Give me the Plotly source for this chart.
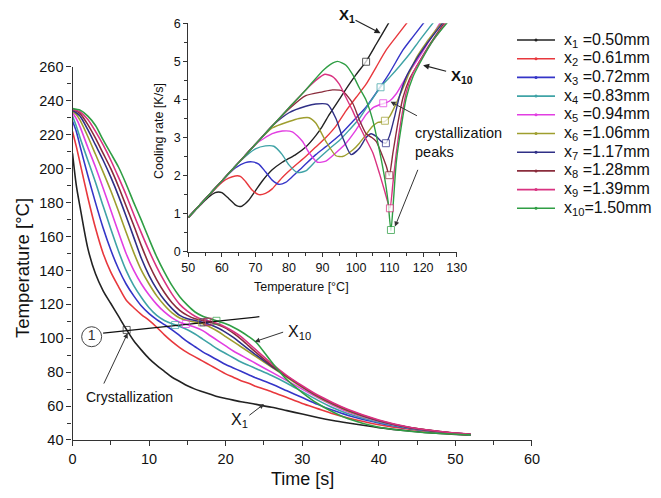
import plotly.graph_objects as go

# ---------------- main chart data: temperature vs time ----------------
time_s = [0, 0.5, 1, 2, 3, 4, 5, 6, 7, 8, 9, 10, 11, 12, 13, 14, 15, 16, 17, 18, 19,
          20, 21, 22, 23, 24, 26, 28, 30, 32, 34, 36, 40, 44, 48, 52]

T_x1 = [209, 190, 177, 153, 138, 128, 120.5, 113, 105.5, 98.5, 93, 88, 84, 80.5, 77, 74.5, 72, 70, 68.5, 67, 65.5,
        64.5, 63.5, 62.5, 61.8, 61, 59.3, 57.3, 55.3, 53.3, 51.5, 50, 47.3, 45.3, 43.8, 42.8]
T_x2 = [222, 213, 203, 183, 165, 150, 139, 130.5, 122.6, 118, 114, 110.5, 106.5, 102, 98, 94.5, 91.5, 89, 86.5, 84, 81.5,
        79, 77, 75, 73.5, 71.5, 68.5, 65, 61.5, 58.5, 55.5, 53, 49, 46.3, 44.3, 43]
T_x3 = [228, 222, 213, 196, 180, 165, 152, 141, 132, 125, 119, 114.5, 111, 108, 105, 101.5, 98, 95, 92, 89.5, 87,
        84.5, 82.5, 80.5, 78.5, 76.5, 73, 69, 65, 61, 57.5, 54.5, 50, 46.8, 44.6, 43.1]
T_x4 = [231, 225, 218, 205, 192, 178, 164.5, 151.5, 140, 131, 124, 118, 113.5, 110.5, 108.5, 107, 105, 102.5, 99.5, 96.5, 93.5,
        91, 88.5, 86, 84, 82, 78, 73.5, 68.5, 63.5, 59, 55.5, 50.5, 47, 44.7, 43.1]
T_x5 = [233, 229.5, 224.5, 212.5, 201, 188.5, 175.5, 162.5, 150, 140, 132, 125.5, 120, 115.5, 112, 109.5, 108, 106.5, 104.5, 101.5, 98.5,
        95.5, 92.5, 90, 87.5, 85, 80, 75, 70, 65, 60.5, 56.5, 51, 47.2, 44.8, 43.2]
T_x6 = [234, 232, 228.5, 219, 208.5, 198, 187, 175, 162.5, 150.5, 140, 132, 125, 119.5, 115, 112, 110.5, 109.5, 108.5, 106.5, 104,
        101, 98, 95, 92, 89, 83, 77, 71, 65.5, 61, 57, 51.2, 47.3, 44.9, 43.2]
T_x7 = [234.5, 233, 231, 223, 214, 205, 195, 184, 172, 159.5, 147, 137, 129, 122.5, 117.5, 113.5, 111.5, 110.5, 109.5, 108, 106,
        103.5, 100.5, 97, 93.5, 90, 83.5, 77.5, 71.5, 66, 61.5, 57.5, 51.3, 47.3, 44.9, 43.3]
T_x8 = [235, 234, 232.5, 226, 218, 209, 200, 189.5, 178, 166.5, 154.5, 143.5, 134.5, 127, 121, 116.5, 113.5, 111.5, 110.5, 109.5, 108,
        106, 103, 99.5, 95.5, 91.5, 84, 77.5, 71.5, 66, 61.5, 57.5, 51.5, 47.4, 45, 43.3]
T_x9 = [235, 234.5, 233.5, 229, 222, 214, 205, 195, 184.5, 173, 162, 151.5, 142, 133.5, 126, 120, 116, 113, 111, 110, 108.5,
        106.5, 104, 101, 97, 93, 85, 78, 72, 66.5, 62, 58, 51.8, 47.5, 45, 43.4]
T_x10 = [235.5, 235, 234.5, 231, 225.5, 217, 209, 201, 191, 180, 169.5, 158.5, 148, 139, 131, 124.5, 119.5, 115.5, 113, 111.5, 110,
         108.5, 106.5, 104, 101, 97.5, 86, 75.5, 68, 61.5, 56.5, 52.5, 47.5, 45.2, 43.8, 43]

main_series = [T_x1, T_x2, T_x3, T_x4, T_x5, T_x6, T_x7, T_x8, T_x9, T_x10]

cryst_series = [0, 3, 4, 5, 6, 7, 8, 9]
cryst_time = [7.07, 13.4, 14.8, 16.9, 17.1, 17.6, 17.8, 18.8]
cryst_temp = [104.9, 107.8, 108.4, 109.3, 109.4, 109.7, 109.8, 110.3]

cryst_line_t = [4.0, 24.4]
cryst_line_T = [103.0, 112.7]

# ---------------- inset data: cooling rate vs temperature ----------------
in_T1 = [50, 52, 54, 56, 58, 59, 60, 62, 64, 65, 66, 68, 70, 72, 75, 78, 80, 82, 85, 88, 90, 92, 95, 98, 100, 103, 106, 108, 110]
in_R1 = [0.9, 1.08, 1.26, 1.43, 1.55, 1.57, 1.55, 1.4, 1.23, 1.19, 1.2, 1.35, 1.6, 1.85, 2.15, 2.35, 2.45, 2.55, 2.75, 3.05, 3.3, 3.6, 4.0, 4.4, 4.65, 5.0, 5.45, 5.75, 6.05]
in_T2 = [50, 55, 58, 60, 62, 64, 65.5, 67, 69, 71, 73, 75, 78, 81, 85, 88, 91, 94, 97, 100, 103, 106, 109, 112, 115.5]
in_R2 = [0.9, 1.38, 1.65, 1.82, 1.93, 1.99, 1.98, 1.85, 1.62, 1.5, 1.53, 1.65, 1.95, 2.2, 2.5, 2.75, 3.0, 3.3, 3.7, 4.05, 4.4, 4.85, 5.3, 5.65, 6.05]
in_T3 = [50, 55, 60, 64, 67, 69, 71, 73, 75, 77, 79, 81, 84, 88, 91, 95, 99, 103, 107, 110, 114, 117, 120.5]
in_R3 = [0.9, 1.38, 1.86, 2.2, 2.34, 2.36, 2.3, 2.1, 1.88, 1.77, 1.82, 1.97, 2.22, 2.55, 2.76, 3.05, 3.42, 3.8, 4.3, 4.7, 5.3, 5.65, 6.05]
in_T4 = [50, 55, 60, 65, 70, 73, 75.5, 78, 80, 82.5, 85, 88, 92, 95, 98, 101, 104, 107.5, 110, 113, 116, 119, 123.3]
in_R4 = [0.9, 1.38, 1.86, 2.34, 2.7, 2.78, 2.77, 2.55, 2.28, 2.08, 2.12, 2.38, 2.7, 2.92, 3.2, 3.5, 3.9, 4.35, 4.58, 4.88, 5.2, 5.56, 6.05]
in_T5 = [50, 55, 60, 65, 70, 75, 78, 81, 84, 86, 88.5, 91, 94, 97, 100, 103, 105, 107, 108.5, 110, 112, 115, 118, 121, 125.3]
in_R5 = [0.9, 1.38, 1.86, 2.34, 2.82, 3.1, 3.17, 3.15, 2.9, 2.6, 2.35, 2.38, 2.6, 2.85, 3.2, 3.6, 3.78, 3.86, 3.9, 3.96, 4.15, 4.6, 5.0, 5.42, 6.05]
in_T6 = [50, 55, 60, 65, 70, 75, 80, 83, 86, 88, 91, 94, 96, 99, 101, 103, 105, 106.5, 108.5, 110, 112, 114, 116, 118, 121, 125.8]
in_R6 = [0.9, 1.38, 1.86, 2.34, 2.82, 3.25, 3.42, 3.5, 3.52, 3.38, 2.9, 2.52, 2.5, 2.67, 2.85, 3.08, 3.3, 3.4, 3.42, 3.55, 3.9, 4.3, 4.72, 5.1, 5.5, 6.05]
in_T7 = [50, 55, 60, 65, 70, 75, 80, 85, 88, 91.5, 94, 96, 98.5, 101, 103, 104.5, 106, 107.5, 108.9, 110, 111.5, 113, 115, 117, 121, 126.2]
in_R7 = [0.9, 1.38, 1.86, 2.34, 2.82, 3.3, 3.65, 3.82, 3.88, 3.87, 3.5, 3.0, 2.55, 2.72, 3.0, 3.1, 3.03, 2.9, 2.85, 3.05, 3.55, 4.1, 4.6, 4.92, 5.45, 6.05]
in_T8 = [50, 55, 60, 65, 70, 75, 80, 85, 90, 93, 96, 99, 101, 103, 104.7, 106, 107.5, 109, 109.9, 111, 112.5, 114, 116, 118, 122, 126.6]
in_R8 = [0.9, 1.38, 1.86, 2.34, 2.82, 3.3, 3.75, 4.1, 4.2, 4.25, 4.22, 3.9, 3.46, 3.1, 3.0, 2.9, 2.6, 2.25, 2.0, 2.6, 3.4, 4.05, 4.55, 4.86, 5.45, 6.05]
in_T9 = [50, 55, 60, 65, 70, 75, 80, 85, 88, 90.7, 93, 95, 97, 99, 101, 103, 105, 107, 108.5, 110.1, 111, 112, 113.5, 115, 117, 119, 123, 127.1]
in_R9 = [0.9, 1.38, 1.86, 2.34, 2.82, 3.3, 3.78, 4.25, 4.5, 4.66, 4.6, 4.4, 4.05, 3.7, 3.3, 2.95, 2.6, 2.05, 1.6, 1.15, 1.8, 2.6, 3.5, 4.2, 4.7, 5.0, 5.55, 6.05]
in_T10 = [50, 55, 60, 65, 70, 75, 80, 85, 90, 92.5, 94.5, 97, 99, 101, 103, 105, 107, 108.5, 109.5, 110.4, 111.2, 112, 113.5, 115, 117, 119, 123, 127.5]
in_R10 = [0.9, 1.38, 1.86, 2.34, 2.82, 3.3, 3.78, 4.25, 4.75, 4.93, 5.0, 4.9, 4.65, 4.3, 3.98, 3.45, 2.65, 1.95, 1.35, 0.55, 1.4, 2.35, 3.3, 4.05, 4.6, 4.95, 5.56, 6.05]

inset_T = [in_T1, in_T2, in_T3, in_T4, in_T5, in_T6, in_T7, in_T8, in_T9, in_T10]
inset_R = [in_R1, in_R2, in_R3, in_R4, in_R5, in_R6, in_R7, in_R8, in_R9, in_R10]

peak_series = [0, 3, 4, 5, 6, 7, 8, 9]
peak_temp = [103.0, 107.3, 108.1, 108.6, 108.9, 109.9, 110.1, 110.4]
peak_rate = [4.99, 4.32, 3.9, 3.44, 2.85, 2.01, 1.14, 0.57]

legend_labels = ["x<sub>1</sub> =0.50mm", "x<sub>2</sub> =0.61mm", "x<sub>3</sub> =0.72mm",
                 "x<sub>4</sub> =0.83mm", "x<sub>5</sub> =0.94mm", "x<sub>6</sub> =1.06mm",
                 "x<sub>7</sub> =1.17mm", "x<sub>8</sub> =1.28mm", "x<sub>9</sub> =1.39mm",
                 "x<sub>10</sub>=1.50mm"]
colors = ["#222222", "#e8383d", "#3535c8", "#3fa3a6", "#e23ee2",
          "#9e9e2e", "#2f2f86", "#8a2c3c", "#d93381", "#2f9e44"]

FONT = "Arial, Liberation Sans, sans-serif"

fig = go.Figure()

for i in range(10):
    fig.add_trace(go.Scatter(x=time_s, y=main_series[i], mode="lines",
                             line=dict(color=colors[i], width=1.6, shape="spline", smoothing=0.8),
                             showlegend=False, hoverinfo="skip", xaxis="x", yaxis="y"))

fig.add_trace(go.Scatter(x=cryst_line_t, y=cryst_line_T, mode="lines",
                         line=dict(color="#111111", width=1.2), showlegend=False,
                         xaxis="x", yaxis="y"))
for k, s in enumerate(cryst_series):
    fig.add_trace(go.Scatter(x=[cryst_time[k]], y=[cryst_temp[k]], mode="markers",
                             marker=dict(symbol="square-open", size=7, color=colors[s],
                                         opacity=0.7, line=dict(width=1)),
                             showlegend=False, xaxis="x", yaxis="y"))
fig.add_trace(go.Scatter(x=[2.5], y=[100.9], mode="markers+text", text=["1"],
                         textposition="middle center",
                         textfont=dict(size=14, color="#333333", family=FONT),
                         marker=dict(symbol="circle-open", size=20, color="#444444", line=dict(width=1)),
                         showlegend=False, xaxis="x", yaxis="y"))

for i in range(10):
    fig.add_trace(go.Scatter(x=inset_T[i], y=inset_R[i], mode="lines",
                             line=dict(color=colors[i], width=1.4, shape="spline", smoothing=0.6),
                             showlegend=False, hoverinfo="skip", xaxis="x2", yaxis="y2"))
for k, s in enumerate(peak_series):
    fig.add_trace(go.Scatter(x=[peak_temp[k]], y=[peak_rate[k]], mode="markers",
                             marker=dict(symbol="square", size=7, color="white",
                                         line=dict(width=1, color=colors[s])),
                             opacity=0.75, showlegend=False, xaxis="x2", yaxis="y2"))

axis_common = dict(showline=True, linecolor="#333333", linewidth=1.3, ticks="outside",
                   tickcolor="#333333", showgrid=False, zeroline=False, mirror=False,
                   automargin=False)

fig.update_layout(
    width=661, height=498,
    margin=dict(l=0, r=0, t=0, b=0),
    paper_bgcolor="white", plot_bgcolor="rgba(0,0,0,0)",
    font=dict(family=FONT, color="#111111"),
    xaxis=dict(domain=[0.1097, 0.8048], range=[0, 60], dtick=10, ticklen=5, tickwidth=1.2,
               minor=dict(dtick=5, ticklen=4, ticks="outside", tickcolor="#333333"),
               tickfont=dict(size=14.5), anchor="y", **axis_common),
    yaxis=dict(domain=[0.1165, 0.8655], range=[40, 260], dtick=20, ticklen=5, tickwidth=1.2,
               minor=dict(dtick=10, ticklen=4, ticks="outside", tickcolor="#333333"),
               tickfont=dict(size=14.5), anchor="x", **axis_common),
    xaxis2=dict(domain=[0.2849, 0.6909], range=[50, 130], dtick=10, ticklen=4, tickwidth=1,
                minor=dict(dtick=5, ticklen=3, ticks="outside", tickcolor="#333333"),
                tickfont=dict(size=12.5), anchor="y2", **axis_common),
    yaxis2=dict(domain=[0.4946, 0.9532], range=[0, 6], dtick=1, ticklen=4, tickwidth=1,
                minor=dict(dtick=0.5, ticklen=3, ticks="outside", tickcolor="#333333"),
                tickfont=dict(size=12.5), anchor="x2", **axis_common),
    showlegend=False,
)

W, H = 661.0, 498.0


def pann(text, px, py, size, angle=0):
    return dict(text=text, x=px / W, y=1 - py / H, xref="paper", yref="paper", showarrow=False,
                xanchor="center", yanchor="middle", textangle=angle, font=dict(size=size))


shapes = []
ann = []
leg_top_px = 40.0
leg_step_px = 18.7
for i in range(10):
    yc = 1 - (leg_top_px + i * leg_step_px) / H
    shapes.append(dict(type="line", xref="paper", yref="paper", x0=517 / W, x1=555 / W, y0=yc, y1=yc,
                       line=dict(color=colors[i], width=1.6)))
    shapes.append(dict(type="circle", xref="paper", yref="paper", x0=(536 - 1.5) / W, x1=(536 + 1.5) / W,
                       y0=yc - 1.5 / H, y1=yc + 1.5 / H, fillcolor=colors[i], line=dict(width=0)))
    ann.append(dict(text=legend_labels[i], x=562 / W, y=yc, xref="paper", yref="paper", showarrow=False,
                    xanchor="left", yanchor="middle", font=dict(size=16)))

ann.append(pann("Time [s]", 302, 479, 18))
ann.append(pann("Temperature [°C]", 22, 268, 18.5, angle=-90))
ann.append(pann("Temperature [°C]", 301, 287, 12.5))
ann.append(pann("Cooling rate [K/s]", 159, 131, 12.5, angle=-90))
ann.append(pann("<b>X</b><sub><b>1</b></sub>", 347, 16, 15))
ann.append(pann("<b>X</b><sub><b>10</b></sub>", 462, 76, 15))

ann.append(dict(text="Crystallization", x=7.5, y=65.4, xref="x", yref="y", showarrow=False,
                font=dict(size=14)))
ann.append(dict(text="", x=7.2, y=103, ax=4.0, ay=72.4, xref="x", yref="y", axref="x", ayref="y",
                showarrow=True, arrowhead=2, arrowsize=1, arrowwidth=1, arrowcolor="#333333"))
ann.append(dict(text="X<sub>10</sub>", x=29.6, y=103.3, xref="x", yref="y", showarrow=False,
                font=dict(size=16)))
ann.append(dict(text="", x=23.8, y=98, ax=27.7, ay=103.9, xref="x", yref="y", axref="x", ayref="y",
                showarrow=True, arrowhead=2, arrowsize=1, arrowwidth=1, arrowcolor="#333333"))
ann.append(dict(text="X<sub>1</sub>", x=21.8, y=51.5, xref="x", yref="y", showarrow=False,
                font=dict(size=16)))
ann.append(dict(text="", x=25.0, y=61.2, ax=22.9, ay=53.9, xref="x", yref="y", axref="x", ayref="y",
                showarrow=True, arrowhead=2, arrowsize=1, arrowwidth=1, arrowcolor="#333333"))
ann.append(dict(text="", x=107.3, y=5.74, ax=99.4, ay=6.1, xref="x2", yref="y2", axref="x2", ayref="y2",
                showarrow=True, arrowhead=2, arrowsize=1, arrowwidth=1.2, arrowcolor="#222222"))
ann.append(dict(text="", x=120.0, y=4.9, ax=127.3, ay=4.73, xref="x2", yref="y2", axref="x2", ayref="y2",
                showarrow=True, arrowhead=2, arrowsize=1, arrowwidth=1.2, arrowcolor="#222222"))
ann.append(dict(text="crystallization<br>peaks", x=117.0, y=2.86, xref="x2", yref="y2", showarrow=False,
                xanchor="left", yanchor="middle", align="left", font=dict(size=14.5)))
ann.append(dict(text="", x=110.3, y=3.94, ax=118.6, ay=3.55, xref="x2", yref="y2", axref="x2", ayref="y2",
                showarrow=True, arrowhead=2, arrowsize=1, arrowwidth=1, arrowcolor="#333333"))
ann.append(dict(text="", x=111.6, y=0.66, ax=118.6, ay=2.19, xref="x2", yref="y2", axref="x2", ayref="y2",
                showarrow=True, arrowhead=2, arrowsize=1, arrowwidth=1, arrowcolor="#333333"))
fig.update_layout(annotations=ann, shapes=shapes)

fig.write_html("out.html", config={"displayModeBar": False},
               post_script="document.body.style.margin='0px';")
